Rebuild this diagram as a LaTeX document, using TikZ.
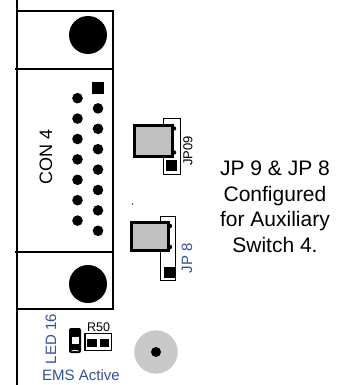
\documentclass[tikz,border=0pt]{standalone}
\usepackage{fontspec}
\setmainfont{Liberation Sans}
\definecolor{ledblue}{RGB}{50,80,160}
\definecolor{capgray}{RGB}{192,192,192}
\definecolor{ledgray}{RGB}{200,200,200}
\begin{document}
\begin{tikzpicture}[x=1pt, y=-1pt,
    pinhole/.style={circle, fill, inner sep=0pt, minimum size=10.6pt},
    pinone/.style={rectangle, fill, inner sep=0pt, minimum size=12pt},
    header/.style={rectangle, draw, line width=1pt, fill=white, inner sep=0pt},
    jcap/.style={rectangle, draw, line width=3pt, fill=capgray, inner sep=0pt},
    pinsq/.style={rectangle, fill, inner sep=0pt, minimum size=11pt},
    vlabel/.style={rotate=90, inner sep=0pt}]
    \useasboundingbox (0,0) rectangle (348,385);

    % board outline and connector body
    \begin{scope}[line width=1.5pt]
      \draw (17,0) -- (17,385);
      \draw (17,11) rectangle (113,69);
      \draw (15,69) -- (113,69) -- (113,252);
      \draw (15,252) -- (113,252);
      \draw (17,252) rectangle (113,309);
    \end{scope}
    \node [circle, fill, inner sep=0pt, minimum size=38pt] (screwA) at (88,35) {};
    \node [circle, fill, inner sep=0pt, minimum size=38pt] (screwB) at (88,284) {};
    \node [vlabel, font=\fontsize{18}{18}\selectfont] (con) at (46,157) {CON 4};

    \begin{scope}[every node/.style={pinhole}]
      \node [pinone] (p1) at (98,88) {};
      \node (p2) at (98,108.4) {};
      \node (p3) at (98,128.8) {};
      \node (p4) at (98,149.2) {};
      \node (p5) at (98,169.6) {};
      \node (p6) at (98,190) {};
      \node (p7) at (98,210.4) {};
      \node (p8) at (98,230.8) {};
      \node (p9) at (77.5,98.2) {};
      \node (p10) at (77.5,118.6) {};
      \node (p11) at (77.5,139) {};
      \node (p12) at (77.5,159.4) {};
      \node (p13) at (77.5,179.8) {};
      \node (p14) at (77.5,200.2) {};
      \node (p15) at (77.5,220.6) {};
    \end{scope}
    \node [circle, fill, inner sep=0pt, minimum size=1.5pt] (speck) at (132.5,204) {};

    % jumper JP09
    \node [header, minimum width=17pt, minimum height=56pt] (hd9) at (171.5,146) {};
    \node [jcap, minimum width=38.5pt, minimum height=31pt] (cap9) at (153.25,140.5) {};
    \fill (cap9.north east) ++(0,5) circle (2.2pt);
    \fill (cap9.south east) ++(0,-5) circle (2.2pt);
    \node [pinsq] (sq9) at (171.5,165.75) {};
    \node [vlabel, font=\fontsize{13}{13}\selectfont] (jp9) at (188,151) {JP09};

    % jumper JP 8
    \node [header, minimum width=15pt, minimum height=64pt] (hd8) at (167.5,248) {};
    \node [jcap, minimum width=37pt, minimum height=28pt] (cap8) at (150,236.5) {};
    \fill (cap8.north east) ++(0,5) circle (2.2pt);
    \fill (cap8.south east) ++(0,-5) circle (2.2pt);
    \node [pinsq] (sq8) at (169,272.75) {};
    \node [vlabel, text=ledblue, font=\fontsize{15}{15}\selectfont] (jp8) at (187,258) {JP 8};

    \node [align=center, anchor=north, inner sep=0pt, font=\fontsize{21}{25.5}\selectfont] (note) at (275,161)
      {JP 9 \& JP 8\\Configured\\for Auxiliary\\Switch 4.};

    % status LED and resistor
    \node [vlabel, text=ledblue, font=\fontsize{15}{15}\selectfont] (ledlbl) at (51,339) {LED 16};
    \node [rectangle, rounded corners=2pt, fill, inner sep=0pt, minimum width=12pt, minimum height=25pt] (led) at (75,340.5) {};
    \node [rectangle, fill=white, inner sep=0pt, minimum width=7pt, minimum height=7pt] at (led) {};
    \draw [white, line width=0.8pt] (71.5,351) to [bend left=20] (78.5,351);
    \node [font=\fontsize{12.5}{12.5}\selectfont, inner sep=0pt] (rlbl) at (98.5,327.5) {R50};
    \node [rectangle, draw, line width=1.2pt, inner sep=0pt, minimum width=26.5pt, minimum height=17pt] (res) at (98.25,342) {};
    \node [rectangle, fill, inner sep=0pt, minimum width=9.5pt, minimum height=8pt] (resA) at (92.2,343.3) {};
    \node [rectangle, fill, inner sep=0pt, minimum width=9.5pt, minimum height=8pt] (resB) at (104.3,343.3) {};
    \node [text=ledblue, inner sep=0pt, font=\fontsize{15}{15}\selectfont] (ems) at (81,375) {EMS Active};

    \node [circle, fill=ledgray, inner sep=0pt, minimum size=43.4pt] (lens) at (156,352) {};
    \node [circle, fill, inner sep=0pt, minimum size=10pt] (lensdot) at (lens) {};
  \end{tikzpicture}
\end{document}
